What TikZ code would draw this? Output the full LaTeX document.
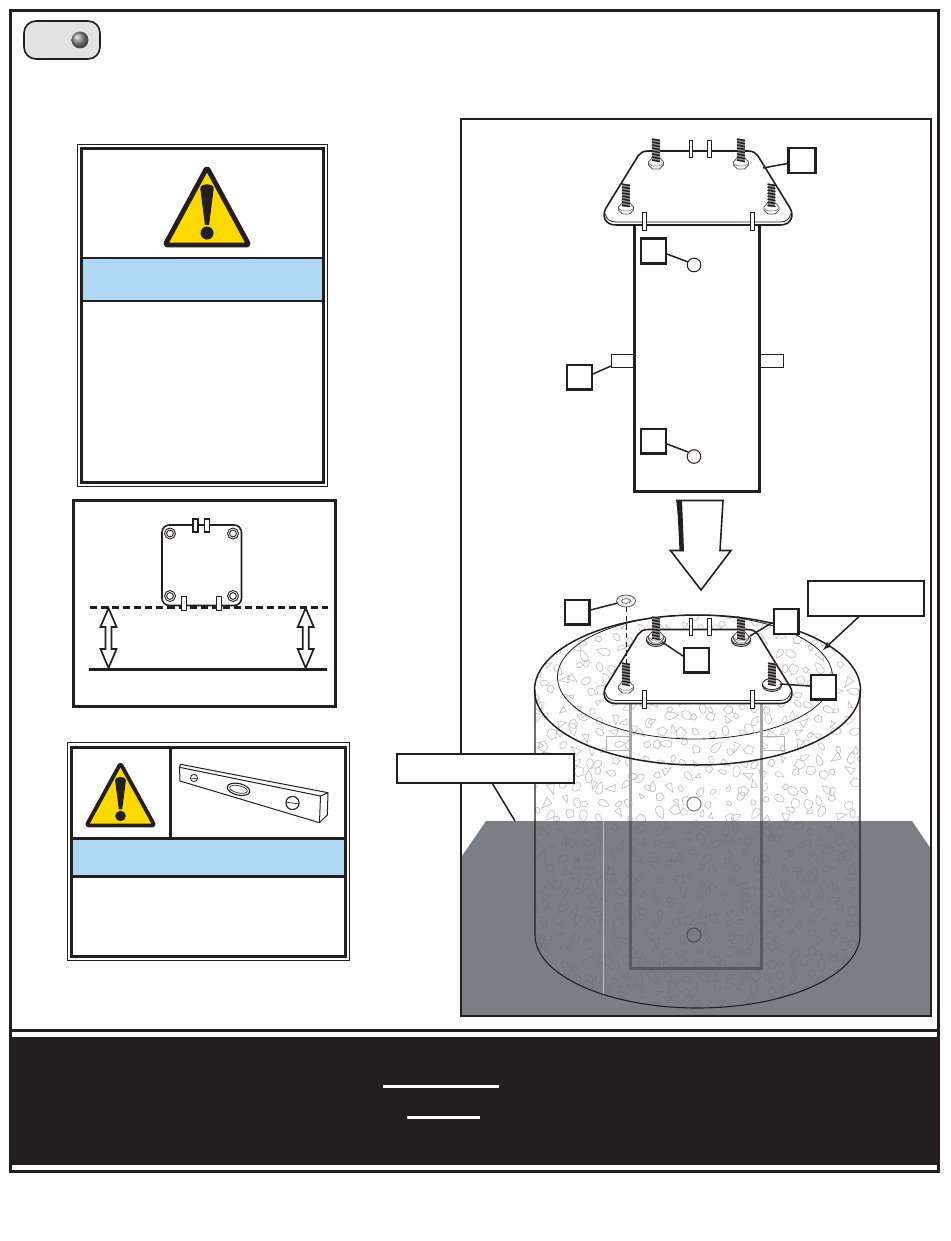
\documentclass[tikz,border=0pt]{standalone}
\usepackage{tikz}
\definecolor{ink}{RGB}{35,31,32}
\definecolor{signyellow}{RGB}{255,217,0}
\definecolor{bandblue}{RGB}{174,215,243}
\definecolor{floorbase}{RGB}{89,96,104}
\definecolor{postdark}{RGB}{84,90,97}
\tikzset{
 px/.style={line width=#1*0.75pt},
 lbl/.style={draw=ink,px=2.2,fill=white,minimum size=18.6pt,inner sep=0pt},
 call/.style={draw=ink,px=1.2,fill=white,inner sep=0pt},
 leader/.style={draw=ink,px=1.5},
 frameline/.style={draw=ink,px=3},
 thinframe/.style={draw=ink,px=0.6},
 tab/.style={draw=ink,px=0.9,fill=white},
 speck/.style={draw=black!28,px=0.55},
 plateline/.style={draw=ink,px=1.6,fill=white},
}
\newcommand{\warnsign}[4]{% apex x, apex y, half width, height
 \begin{scope}[shift={(#1,#2)}]
 \draw[draw=ink,px=#4*0.062,fill=signyellow,line join=round,rounded corners=1.8pt]
   (0,0) -- (#3,#4) -- (-#3,#4) -- cycle;
 \fill[ink] (-#3*0.16,#4*0.27) .. controls (-#3*0.16,#4*0.2) and (#3*0.16,#4*0.2) .. (#3*0.16,#4*0.27)
   -- (#3*0.05,#4*0.74) -- (-#3*0.05,#4*0.74) -- cycle;
 \fill[ink] (0,#4*0.846) circle[radius=#3*0.155];
 \end{scope}}
\newcommand{\threadbolt}[3]{% x, top y, height
 \fill[black!42] (#1-3.8,#2) rectangle (#1+3.8,#2+#3);
 \foreach \t in {0,3,...,#3}{\draw[ink,px=1.5] (#1-4,#2+\t) -- (#1+4,#2+\t+1.6);}
}
\newcommand{\hexnut}[2]{%
 \draw[draw=black!65,px=0.8,fill=white] (#1-7.5,#2-1) -- (#1-4,#2-5) -- (#1+4,#2-5) -- (#1+7.5,#2-1) -- (#1+7.5,#2+2) -- (#1+3.5,#2+6) -- (#1-3.5,#2+6) -- (#1-7.5,#2+2) -- cycle;
 \draw[draw=black!65,px=0.5] (#1-7.5,#2+0.5) -- (#1-3.5,#2+3) -- (#1+3.5,#2+3) -- (#1+7.5,#2+0.5);
}
\newcommand{\washer}[2]{%
 \draw[draw=ink,px=0.8,fill=black!22] (#1,#2+1.5) ellipse[x radius=9.5,y radius=6];
 \draw[draw=ink,px=0.8,fill=white] (#1,#2) ellipse[x radius=9.5,y radius=5.6];
}
\newcommand{\plate}[1]{%
 \begin{scope}[yshift=-#1*0.75pt]
 \draw[plateline] (648,151) -- (748,151) .. controls (753,151) and (756,153) .. (758,156) -- (790,208) .. controls (794,215) and (792,225) .. (780,225) -- (616,225) .. controls (604,225) and (602,215) .. (606,208) -- (638,156) .. controls (640,153) and (643,151) .. (648,151) -- cycle;
 \draw[draw=ink,px=0.8] (605.5,214) .. controls (606,219) and (610,222) .. (616,222) -- (780,222) .. controls (786,222) and (790,219) .. (790.5,214);
 \draw[tab] (689,140) rectangle (692.5,157);
 \draw[tab] (707.5,140) rectangle (711,157);
 \draw[tab] (642.5,212) rectangle (646,230);
 \draw[tab] (750.5,212) rectangle (754,230);
 \end{scope}}
\newcommand{\dblarrow}[1]{%
 \draw[draw=ink,px=1.7,fill=white,line join=miter] (#1,608) -- (#1+8,627) -- (#1+3,627) -- (#1+3,649) -- (#1+8,649) -- (#1,668) -- (#1-8,649) -- (#1-3,649) -- (#1-3,627) -- (#1-8,627) -- cycle;
}
\begin{document}
\begin{tikzpicture}[x=0.75pt,y=-0.75pt]
\useasboundingbox (0,0) rectangle (950,1241);
\fill[white] (0,0) rectangle (950,1241);
% --- outer frame and footer band
\draw[frameline] (10.5,11) rectangle (938,1171);
\draw[frameline] (10.5,1030) -- (940,1030);
\fill[ink] (10.5,1037) rectangle (938,1165);
\fill[white] (383,1084.5) rectangle (499,1087.5);
\fill[white] (407,1116) rectangle (480,1119);
% --- tag at top left
\draw[draw=ink,px=1.6,fill=black!11,rounded corners=9pt] (24,21) rectangle (100,59);
\shade[ball color=black!45] (80,40) circle[radius=8.5];
% --- first warning panel
\draw[thinframe] (77.5,144.5) rectangle (327.5,486);
\fill[bandblue] (82,258) rectangle (323,301);
\draw[frameline] (81,148.5) rectangle (323.5,482);
\draw[draw=ink,px=2] (81,257.5) -- (323.5,257.5);
\draw[draw=ink,px=2] (81,301) -- (323.5,301);
\warnsign{207}{167.5}{42}{77.5}
% --- spacing panel
\draw[frameline] (73,500.5) rectangle (335.5,706);
\draw[draw=ink,px=1.6,rounded corners=5.5pt] (162,525) rectangle (241.5,605.5);
\foreach \hx/\hy in {170/533.5,233/533.5,170/596,233/596}{
 \draw[draw=ink,px=0.9] (\hx,\hy) circle[radius=5.5];
 \draw[draw=ink,px=0.9] (\hx,\hy) circle[radius=3.4];
}
\draw[draw=ink,px=2.2,dash pattern=on 5.3pt off 3pt] (90,607.5) -- (328,607.5);
\draw[draw=ink,px=3] (89,669) -- (327,669);
\draw[tab,px=1.6] (193,519) rectangle (198,532);
\draw[tab,px=1.6] (204.5,519) rectangle (209.5,532);
\draw[tab,px=1.6] (181.5,596.5) rectangle (186.5,610.5);
\draw[tab,px=1.6] (216.5,596.5) rectangle (221.5,610.5);
\dblarrow{108.5}
\dblarrow{305.7}
% --- level panel
\draw[thinframe] (67.5,742.5) rectangle (349.5,960);
\fill[bandblue] (72,839) rectangle (345,875);
\draw[frameline] (71,747.5) rectangle (345.5,956);
\draw[frameline] (170.5,747.5) -- (170.5,838);
\draw[frameline] (71,838) -- (345.5,838);
\draw[frameline] (71,876) -- (345.5,876);
\warnsign{120.5}{763.5}{34}{62}
\begin{scope}[draw=ink]
 \draw[px=1,line join=round] (180.5,764.3) -- (328,792.7) -- (327.3,815) -- (319.5,822.7) -- (180,781) -- (179.5,767.3) -- cycle;
 \draw[px=1] (179.5,767.3) -- (320.5,796) -- (319.5,822.7);
 \draw[px=1] (320.5,796) -- (328,792.7);
 \draw[px=1.1] (238.5,789.3) ellipse[x radius=11.5,y radius=5.8,rotate=-13];
 \draw[px=0.7] (238.5,789.3) ellipse[x radius=9,y radius=3.6,rotate=-13];
 \draw[px=0.8] (194,778) circle[radius=3.6];
 \draw[px=0.6] (190.5,778) -- (197.5,778.8);
 \draw[px=1.1] (292.5,803) circle[radius=6.6];
 \draw[px=0.7] (286,802) -- (299,804);
\end{scope}
% --- concrete footing, then ground over it
\begin{scope}
 \clip (535,690) .. controls (535,648.6) and (608.5,615) .. (697.5,615) .. controls (786.5,615) and (860,648.6) .. (860,690)
   -- (860,935) .. controls (860,975.3) and (787,1008) .. (697.5,1008) .. controls (608,1008) and (535,975.3) .. (535,935) -- cycle;
 \pgfmathsetseed{4711}
 \foreach \ix in {0,...,24}{\foreach \iy in {0,...,30}{
  \pgfmathsetmacro\cx{533+13.8*\ix+(rnd-0.5)*11}
  \pgfmathsetmacro\cy{612+13.5*\iy+(rnd-0.5)*10}
  \pgfmathsetmacro\rot{rnd*360}
  \pgfmathsetmacro\sz{3+rnd*3}
  \pgfmathtruncatemacro\kind{random(1,4)}
  \ifcase\kind\or
   \draw[speck,shift={(\cx,\cy)},rotate=\rot,scale=\sz] (1.2,0) -- (-.7,.6) -- (-.5,-.7) -- cycle;
  \or
   \draw[speck,shift={(\cx,\cy)},rotate=\rot,scale=\sz] (1,.2) -- (.1,.9) -- (-.9,.4) -- (-.5,-.8) -- (.6,-.6) -- cycle;
  \or
   \draw[speck,shift={(\cx,\cy)},rotate=\rot,scale=\sz] (0,0) ellipse[x radius=1,y radius=.65];
  \or
   \draw[speck,shift={(\cx,\cy)},rotate=\rot,scale=\sz] (1.3,0) .. controls (.2,.9) and (-1,.8) .. (-1,0) .. controls (-1,-.8) and (.2,-.9) .. (1.3,0) -- cycle;
  \fi
 }}
\end{scope}
\draw[draw=ink,px=0.8] (695,677) ellipse[x radius=137.5,y radius=62];
\draw[draw=black!30,px=0.8] (606,736.5) rectangle (630,750);
\draw[draw=black!30,px=0.8] (761,736.5) rectangle (784,750);
\draw[draw=black!35,px=3] (630,702) -- (630,821);
\draw[draw=black!35,px=3] (761,702) -- (761,821);
\draw[draw=black!50,px=1.1,fill=white] (694,804) circle[radius=7];
\fill[floorbase,opacity=0.8] (462,856) -- (486,821) -- (912,821) -- (931,849) -- (931,1016) -- (462,1016) -- cycle;
\draw[draw=black!25,px=0.8] (603,821) -- (603,994);
\draw[draw=postdark,px=3] (630,821) -- (630,968) -- (761,968) -- (761,821);
\draw[draw=black!75,px=0.8] (694,935) circle[radius=7];
\draw[draw=ink,px=1.1] (535,690) -- (535,935) .. controls (535,975.3) and (608,1008) .. (697.5,1008) .. controls (787,1008) and (860,975.3) .. (860,935) -- (860,690);
\draw[draw=ink,px=1.5] (697.5,690) ellipse[x radius=163,y radius=75];
\draw[draw=ink,px=2] (461,119.5) rectangle (931,1016);
% --- upper assembly
\draw[draw=ink,px=3,fill=white] (634.5,225) -- (634.5,491) -- (759.5,491) -- (759.5,225);
\draw[draw=ink,px=1,fill=white] (694,265) circle[radius=6.8];
\draw[draw=ink,px=1,fill=white] (694,456.5) circle[radius=6.8];
\draw[draw=ink,px=0.8] (611,354) rectangle (634,367);
\draw[draw=ink,px=0.8] (760,354) rectangle (783,367);
\plate{0}
\hexnut{656}{163}
\hexnut{741}{163}
\hexnut{626}{208}
\hexnut{771.5}{208}
\threadbolt{656}{139}{22}
\threadbolt{741}{139}{22}
\threadbolt{626}{184}{23}
\threadbolt{771.5}{184}{23}
% --- big arrow
\draw[draw=ink,px=1.6,fill=white,line join=miter] (677,500.5) -- (723,500.5) -- (720,550.5) -- (731,550.5) -- (701,590) -- (670.5,550.5) -- (683,550.5) -- cycle;
\fill[ink] (677,500) -- (682,500) -- (684,551) -- (679.5,551) -- cycle;
% --- lower assembly
\plate{478.5}
\washer{656}{639}
\washer{741}{639}
\washer{772}{684}
\hexnut{656}{637}
\hexnut{741}{637}
\hexnut{626}{687}
\threadbolt{656}{617}{22}
\threadbolt{741}{617}{22}
\threadbolt{626}{663}{21}
\threadbolt{772}{663}{21}
% washer above and its axis
\draw[draw=ink,px=0.9,dash pattern=on 4pt off 2.5pt] (626,607) -- (626,664);
\draw[draw=black!65,px=0.8,fill=black!6] (626,601) ellipse[x radius=9.5,y radius=6];
\draw[draw=black!65,px=0.7,fill=white] (626,601) ellipse[x radius=4.5,y radius=2.4];
% --- label boxes and leaders
\coordinate (pA) at (763,168);
\coordinate (pB) at (688,262);
\coordinate (pC) at (611,366);
\coordinate (pD) at (688,452);
\coordinate (pE) at (618,603);
\coordinate (pF) at (750,636);
\coordinate (pG) at (662,642);
\coordinate (pH) at (780,684);
\coordinate (pI) at (823,650);
\coordinate (pJ) at (515,821);
\node[lbl,minimum width=20.2pt] (bA) at (802,160.5) {};
\node[lbl] (bB) at (653.5,251) {};
\node[lbl] (bC) at (579.5,377) {};
\node[lbl] (bD) at (653.5,441) {};
\node[lbl] (bE) at (577,612) {};
\node[lbl] (bF) at (786,621.5) {};
\node[lbl] (bG) at (696.5,660) {};
\node[lbl] (bH) at (823.5,687) {};
\node[call,minimum width=87pt,minimum height=26.2pt] (bI) at (866,598.5) {};
\node[draw=ink,px=2,fill=white,inner sep=0pt,minimum width=132.5pt,minimum height=21.5pt] (bJ) at (485.5,768.5) {};
\draw[leader] (bA.west) ++(0,3) -- (pA);
\draw[leader] (bB.east) ++(0,3) -- (pB);
\draw[leader] (bC.east) ++(0,-3) -- (pC);
\draw[leader] (bD.east) ++(0,3) -- (pD);
\draw[leader] (bE.east) ++(0,-2) -- (pE);
\draw[leader] (bF.west) ++(0,1) -- (pF);
\draw[leader] (bG.west) ++(0,-4) -- (pG);
\draw[leader] (bH.west) ++(0,-1) -- (pH);
\draw[leader,-latex] (bI.south) ++(-7,0) -- (pI);
\draw[leader] (bJ.south) ++(7,0) -- (pJ);
\end{tikzpicture}
\end{document}
